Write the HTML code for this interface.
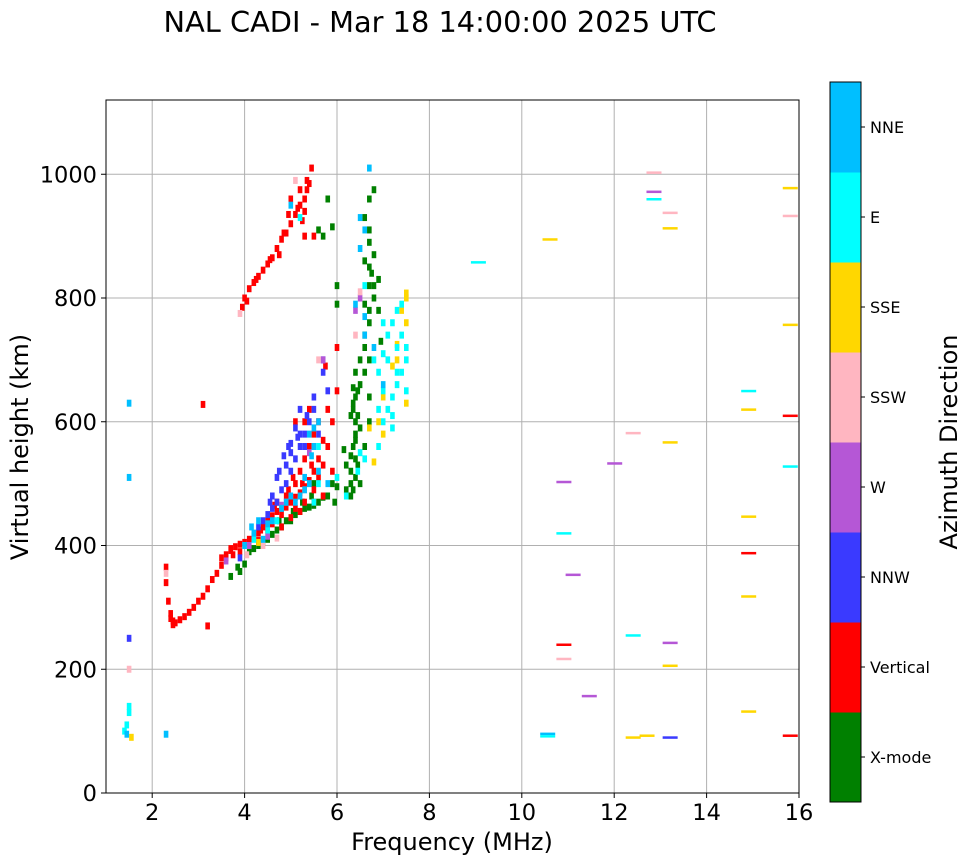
<!DOCTYPE html>
<html><head><meta charset="utf-8"><style>
html,body{margin:0;padding:0;background:#fff;}
svg{display:block;font-family:"DejaVu Sans","Liberation Sans",sans-serif;}
</style></head><body>
<svg id="chart" width="972" height="865" viewBox="0 0 972 865">
<text x="440" y="32" font-size="28.8" text-anchor="middle">NAL CADI - Mar 18 14:00:00 2025 UTC</text>
<g id="grid"></g>
<g id="marks"></g>
<rect x="106" y="100" width="693" height="693" fill="none" stroke="#000" stroke-width="1"/>
<g id="xticks"></g><g id="yticks"></g>
<text x="452" y="850" font-size="24" text-anchor="middle">Frequency (MHz)</text>
<text transform="translate(28,447) rotate(-90)" font-size="24" text-anchor="middle">Virtual height (km)</text>
<g id="cbar"></g>
<text transform="translate(957,442) rotate(-90)" font-size="24" text-anchor="middle">Azimuth Direction</text>
</svg>
<script>
const xTicks=[2,4,6,8,10,12,14,16];
const yTicks=[0,200,400,600,800,1000];
const dirNames=["X-mode","Vertical","NNW","W","SSW","SSE","E","NNE"];
const dirColors=["#008000","#ff0000","#3a3aff","#b557d6","#ffb6c1","#ffd700","#00ffff","#00bfff"];
const xmode=[[3.85,365],[3.9,358],[4.0,370],[4.1,390],[4.3,400],[4.5,410],[4.6,418],[4.7,425],[4.8,430],[4.9,440],[5.0,440],[5.1,450],[5.2,455],[5.3,460],[5.4,462],[5.5,465],[5.6,470],[5.7,478],[5.8,480],[6.0,495],[5.9,500],[6.2,490],[6.35,490],[6.3,520],[6.4,540],[6.35,560],[6.4,600],[6.35,620],[6.4,640],[6.5,660],[6.5,700],[6.6,720],[6.6,740],[6.7,760],[6.7,780],[6.8,800],[6.8,820],[6.75,840],[6.8,870],[6.7,890],[6.6,930],[6.7,960],[6.8,975],[6.5,590],[6.6,560],[6.5,500],[6.6,680],[6.9,830],[6.0,820],[6.0,790],[5.8,960],[5.6,910],[6.3,480],[6.45,650],[6.2,530],[6.9,780],[6.95,730],[6.3,545],[6.3,610],[6.35,655],[6.7,640],[6.7,600],[6.6,860],[6.7,910],[5.9,915],[5.7,900],[5.5,500],[5.95,470],[4.2,395],[4.4,405],[3.7,350],[6.4,580],[6.7,700],[6.7,820],[6.4,570],[6.45,530],[6.4,510],[6.3,500],[6.35,630],[6.45,610],[6.4,680],[6.6,790],[6.7,850],[4.75,440],[5.05,455],[5.25,470],[5.45,480],[4.5,425],[6.15,555]];
const vertical=[[2.3,365],[2.3,340],[2.35,310],[2.4,290],[2.45,278],[2.5,275],[2.6,280],[2.7,285],[2.8,292],[2.9,300],[3.0,310],[3.1,318],[3.2,330],[3.3,345],[3.4,355],[3.5,368],[3.6,385],[3.7,392],[3.8,398],[3.9,402],[4.0,405],[4.1,410],[4.2,415],[4.3,420],[4.4,430],[4.5,440],[4.6,448],[4.7,455],[4.8,460],[4.9,462],[5.0,470],[5.1,478],[5.2,485],[5.3,495],[5.4,505],[5.5,520],[5.6,540],[5.7,570],[5.8,620],[5.2,520],[5.4,560],[5.6,600],[5.3,540],[5.5,580],[5.1,500],[4.9,480],[4.7,470],[3.1,628],[3.95,785],[4.0,800],[4.1,815],[4.2,825],[4.3,835],[4.4,845],[4.5,855],[4.6,865],[4.7,880],[4.8,895],[4.9,905],[5.0,920],[5.1,935],[5.2,950],[5.3,960],[5.4,985],[5.45,1010],[5.2,975],[5.0,960],[5.3,940],[4.5,420],[4.8,430],[5.0,445],[5.2,455],[5.5,470],[5.7,480],[5.75,690],[3.6,380],[3.7,395],[3.9,390],[4.1,400],[4.3,408],[4.6,435],[4.8,450],[5.1,460],[5.3,470],[5.5,490],[5.6,510],[5.7,530],[5.8,560],[5.9,600],[6.0,720],[6.0,650],[5.9,520],[5.1,600],[5.3,600],[5.4,620],[3.2,270],[3.5,380],[5.5,900],[5.3,900],[4.95,935],[5.35,975],[4.05,795],[4.25,830],[4.55,862],[4.85,905],[5.15,945],[5.35,990],[5.25,925],[4.75,870],[5.05,510],[5.25,500],[5.45,530],[4.65,465],[4.95,490],[4.35,425],[3.75,385],[2.4,282],[2.45,272]];
const nnw=[[4.3,430],[4.5,450],[4.6,460],[4.7,470],[4.8,490],[4.9,500],[5.0,520],[5.1,540],[5.2,560],[5.3,580],[5.4,600],[5.5,620],[5.2,620],[5.0,550],[4.9,530],[4.7,510],[5.1,590],[5.5,640],[5.7,680],[5.6,580],[4.4,440],[3.9,380],[1.5,250],[5.8,650],[5.2,580],[5.0,565],[4.85,545],[5.3,560],[4.6,480],[5.7,700],[4.95,560],[5.15,575],[4.75,520],[4.55,470],[5.35,610]];
const westDir=[[5.7,700],[6.5,800],[4.9,470],[5.4,550],[6.4,780],[4.5,415],[4.1,400],[3.6,375],[4.8,465]];
const ssw=[[3.9,775],[6.4,740],[1.5,200],[2.3,355],[5.6,700],[4.4,400],[5.1,990],[4.7,412],[6.5,810],[4.05,385]];
const sse=[[7.5,800],[7.4,780],[7.5,760],[7.2,690],[7.0,580],[6.8,535],[7.5,630],[7.3,700],[1.55,90],[6.9,600],[7.5,808],[7.0,640],[7.3,725],[4.3,405],[6.7,590]];
const eastDir=[[7.0,600],[7.1,620],[7.2,640],[7.3,660],[7.4,680],[7.5,700],[7.3,720],[7.4,740],[7.2,760],[7.3,780],[7.1,700],[7.0,650],[6.9,620],[7.2,590],[7.5,650],[7.4,790],[6.8,700],[6.6,820],[4.7,440],[4.2,410],[5.6,560],[5.5,470],[1.4,100],[1.5,130],[1.45,110],[6.0,510],[6.2,480],[5.2,930],[6.5,550],[6.9,680],[7.1,740],[6.9,560],[7.2,610],[7.5,720],[7.0,760],[7.3,680],[5.6,500],[4.5,425],[1.5,140],[6.6,540],[6.45,520],[7.0,710]];
const nne=[[4.2,420],[4.4,410],[4.6,440],[4.8,460],[5.0,480],[5.2,480],[5.4,500],[5.6,520],[5.6,600],[5.5,560],[5.3,510],[6.4,790],[6.7,1010],[6.5,930],[5.0,950],[6.6,770],[6.8,720],[7.0,660],[1.5,630],[1.45,95],[4.0,400],[5.8,500],[5.5,590],[5.4,580],[4.3,440],[4.9,470],[6.6,910],[6.5,880],[1.5,510],[2.3,95],[6.6,740],[5.1,470],[5.3,490],[4.5,435],[4.15,430],[5.45,545]];
const dashF=[9.05,10.6,12.85,12.85,12.85,13.2,13.2,15.8,15.8,15.8,15.8,15.8,14.9,14.9,14.9,14.9,14.9,14.9,15.8,12.4,12.0,10.9,10.9,11.1,12.4,13.2,13.2,10.9,10.9,11.45,10.55,10.55,12.4,12.7,13.2,13.2];
const dashH=[858,895,1003,972,960,938,913,978,933,757,610,528,650,620,447,388,318,132,93,582,533,503,420,353,255,243,206,240,217,157,96,92,90,93,90,567];
const dashDir=[6,5,4,3,6,4,5,5,4,5,1,6,6,5,5,1,5,5,1,4,3,3,6,3,6,3,5,1,4,3,7,6,5,5,2,5];

const NS="http://www.w3.org/2000/svg";
const X0=106,X1=799,Y0=793,Y1=100,FMIN=1,FMAX=16,HMIN=0,HMAX=1120;
function xs(f){return X0+(f-FMIN)/(FMAX-FMIN)*(X1-X0);}
function ys(h){return Y0-(h-HMIN)/(HMAX-HMIN)*(Y0-Y1);}
function mk(tag,attrs,parent){const e=document.createElementNS(NS,tag);for(const k in attrs)e.setAttribute(k,attrs[k]);parent.appendChild(e);return e;}
const grid=document.getElementById('grid'),marks=document.getElementById('marks'),xt=document.getElementById('xticks'),yt=document.getElementById('yticks'),cb=document.getElementById('cbar');
xTicks.forEach(t=>{const x=xs(t);
 const g=mk('line',{x1:x,x2:x,y1:Y1,y2:Y0,stroke:'#b0b0b0','stroke-width':1},grid);
 
 
 mk('line',{x1:x,x2:x,y1:Y0,y2:Y0+5,stroke:'#000'},xt);
 const l=mk('text',{x:x,y:Y0+27,'font-size':22.5,'text-anchor':'middle'},xt);l.textContent=t;
 
 });
yTicks.forEach(t=>{const y=ys(t);
 const g=mk('line',{x1:X0,x2:X1,y1:y,y2:y,stroke:'#b0b0b0','stroke-width':1},grid);
 
 
 mk('line',{x1:X0-5,x2:X0,y1:y,y2:y,stroke:'#000'},yt);
 const l=mk('text',{x:X0-9,y:y+8,'font-size':22.5,'text-anchor':'end'},yt);l.textContent=t;
 
 });
const series=[xmode,vertical,nnw,westDir,ssw,sse,eastDir,nne];
series.forEach((pts,d)=>{pts.forEach(p=>{
 const r=mk('rect',{x:xs(p[0])-2.3,y:ys(p[1])-3.5,width:4.6,height:7,fill:dirColors[d]},marks);
 
 });});
dashF.forEach((f,i)=>{
 const x=xs(f)-7,w=Math.min(15,X1-x);
 const r=mk('rect',{x:x,y:ys(dashH[i])-1,width:w,height:2.5,fill:dirColors[dashDir[i]]},marks);
 
 });
const CX=830,CW=31,CT=82,CB=802,seg=(CB-CT)/dirNames.length;
dirNames.forEach((n,i)=>{const y=CB-(i+1)*seg;
 const r=mk('rect',{x:CX,y:y,width:CW,height:seg+0.5,fill:dirColors[i]},cb);
 
 
 mk('line',{x1:CX+CW,x2:CX+CW+4,y1:y+seg/2,y2:y+seg/2,stroke:'#000'},cb);
 const t=mk('text',{x:CX+CW+9,y:y+seg/2+6,'font-size':16},cb);t.textContent=n;
 
 });
mk('rect',{x:CX,y:CT,width:CW,height:CB-CT,fill:'none',stroke:'#000'},cb);
</script>
</body></html>
